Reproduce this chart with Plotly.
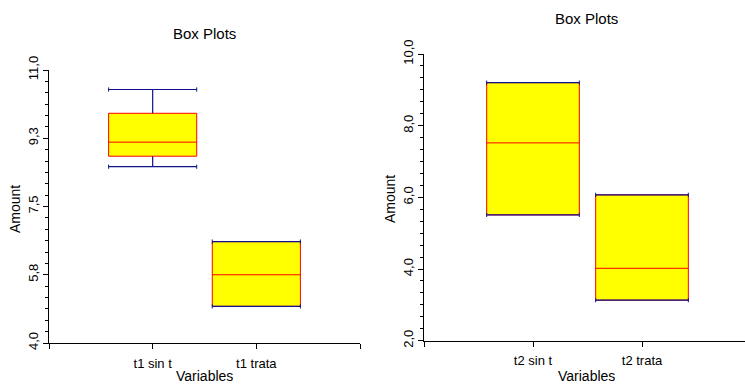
import plotly.graph_objects as go

# Summary statistics for each box (Q1, median, Q3 and whisker ends)
left_vars = ["t1 sin t", "t1 trata"]
left_q1 = [8.79, 4.94]
left_median = [9.15, 5.75]
left_q3 = [9.89, 6.60]
left_low = [8.52, 4.94]
left_high = [10.50, 6.60]

right_vars = ["t2 sin t", "t2 trata"]
right_q1 = [5.51, 3.13]
right_median = [7.52, 4.02]
right_q3 = [9.20, 6.07]
right_low = [5.51, 3.13]
right_high = [9.20, 6.07]

left_ticks = [4.0, 5.75, 7.5, 9.25, 11.0]
left_ticktext = ["4,0", "5,8", "7,5", "9,3", "11,0"]
right_ticks = [2.0, 4.0, 6.0, 8.0, 10.0]
right_ticktext = ["2,0", "4,0", "6,0", "8,0", "10,0"]

W, H = 745, 385
BOX_W = 0.85
FONT = "Arial, Liberation Sans, sans-serif"
NAVY = "#12128a"


def px_x(p):
    return p / W


def px_y(p):
    return 1 - p / H


fig = go.Figure()


def add_panel(names, q1, med, q3, lo, hi, xa, ya):
    pos = list(range(1, len(names) + 1))
    # box body: yellow fill, red outline and median
    fig.add_trace(go.Box(
        x=pos, q1=q1, median=med, q3=q3, lowerfence=q1, upperfence=q3,
        width=BOX_W, whiskerwidth=0, boxpoints=False,
        fillcolor="#ffff00", line=dict(color="#ff0000", width=1),
        xaxis=xa, yaxis=ya, showlegend=False, hoverinfo="skip",
    ))
    # whisker stems and caps in navy, drawn over the boxes
    wx, wy = [], []
    cx, cy = [], []
    half = BOX_W / 2
    for p, a, b, c, d in zip(pos, q1, q3, lo, hi):
        wx += [p, p, None, p, p, None]
        wy += [b, d, None, a, c, None]
        wx += [p - half, p + half, None, p - half, p + half, None]
        wy += [d, d, None, c, c, None]
        cx += [p - half, p + half, p - half, p + half]
        cy += [d, d, c, c]
    fig.add_trace(go.Scatter(
        x=wx, y=wy, mode="lines", line=dict(color=NAVY, width=1.2),
        xaxis=xa, yaxis=ya, showlegend=False, hoverinfo="skip",
    ))
    fig.add_trace(go.Scatter(
        x=cx, y=cy, mode="markers",
        marker=dict(symbol="line-ns", size=3, line=dict(color=NAVY, width=1)),
        xaxis=xa, yaxis=ya, showlegend=False, hoverinfo="skip",
    ))


add_panel(left_vars, left_q1, left_median, left_q3, left_low, left_high, "x", "y")
add_panel(right_vars, right_q1, right_median, right_q3, right_low, right_high, "x2", "y2")

axis_common = dict(
    showline=True, linecolor="black", linewidth=1, showgrid=False, zeroline=False,
    ticks="outside", tickcolor="black", tickwidth=1, automargin=False,
    tickfont=dict(family=FONT, size=13, color="black"),
)

fig.update_layout(
    width=W, height=H,
    margin=dict(l=0, r=0, t=0, b=0, pad=0),
    paper_bgcolor="white", plot_bgcolor="white",
    showlegend=False,
    xaxis=dict(
        domain=[px_x(49), px_x(360)], range=[0, 3], anchor="y",
        tickmode="array", tickvals=[0, 1, 2, 3], ticktext=[""] + left_vars + [""],
        ticklen=5, ticklabelstandoff=3, **axis_common,
    ),
    yaxis=dict(
        domain=[px_y(343), px_y(70)], range=[4, 11], anchor="x",
        tickmode="array", tickvals=left_ticks, ticktext=left_ticktext,
        tickangle=-90, ticklen=5,
        minor=dict(tick0=4, dtick=1.75 / 6, ticks="outside", ticklen=3,
                   tickcolor="black", showgrid=False),
        **axis_common,
    ),
    xaxis2=dict(
        domain=[px_x(424), 1], range=[0, 321 / 109], anchor="y2",
        tickmode="array", tickvals=[0, 1, 2, 3], ticktext=[""] + right_vars + [""],
        ticklen=5, ticklabelstandoff=3, **axis_common,
    ),
    yaxis2=dict(
        domain=[px_y(340.7), px_y(54)], range=[2, 10], anchor="x2",
        tickmode="array", tickvals=right_ticks, ticktext=right_ticktext,
        tickangle=-90, ticklen=5,
        minor=dict(tick0=2, dtick=1 / 3, ticks="outside", ticklen=3,
                   tickcolor="black", showgrid=False),
        **axis_common,
    ),
)

labels = [
    ("Box Plots", 204, 33, 0, 15),
    ("Box Plots", 586, 18, 0, 15),
    ("Amount", 15, 209, -90, 14),
    ("Amount", 390, 199, -90, 14),
    ("Variables", 204, 376, 0, 14),
    ("Variables", 586, 376, 0, 14),
]
for text, x, y, ang, size in labels:
    fig.add_annotation(
        text=text, x=px_x(x), y=px_y(y), xref="paper", yref="paper",
        xanchor="center", yanchor="middle", textangle=ang, showarrow=False,
        font=dict(family=FONT, size=size, color="black"),
    )

fig.write_html("out.html")
